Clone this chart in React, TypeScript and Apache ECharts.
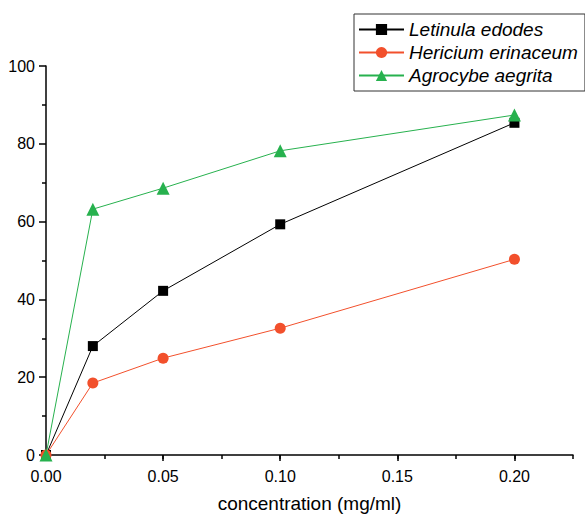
import React, { useEffect, useRef } from "react";
import * as echarts from "echarts";

const concentrations = [0, 0.02, 0.05, 0.1, 0.2];
const seriesNames = ["Letinula edodes", "Hericium erinaceum", "Agrocybe aegrita"];
const letinula = [0, 28.0, 42.2, 59.3, 85.4];
const hericium = [0, 18.5, 24.9, 32.6, 50.3];
const agrocybe = [0, 63.2, 68.6, 78.2, 87.4];
const colors = ["#000000", "#F2502C", "#27B14E"];
const symbols = ["rect", "circle", "triangle"];
const symbolSizes = [10, 11, 13];

export default function App() {
  const ref = useRef<HTMLDivElement>(null);
  useEffect(() => {
    if (!ref.current) return;
    const chart = echarts.init(ref.current, undefined, { renderer: "svg" });
    const values = [letinula, hericium, agrocybe];
    chart.setOption({
      animation: false,
      textStyle: { fontFamily: "Liberation Sans" },
      grid: { left: 46, right: 12, top: 66, bottom: 59, containLabel: false, outerBoundsMode: "none" },
      legend: {
        orient: "vertical",
        left: 354,
        top: 14,
        padding: [6, 7, 6, 4],
        backgroundColor: "#fff",
        borderColor: "#333",
        borderWidth: 1,
        itemWidth: 45,
        itemHeight: 14,
        itemGap: 4,
        textStyle: { fontStyle: "italic", fontSize: 19, color: "#000", fontFamily: "Liberation Sans" },
        data: seriesNames,
      },
      xAxis: [
        {
          type: "value",
          min: 0,
          max: 0.225,
          interval: 0.05,
          name: "concentration (mg/ml)",
          nameLocation: "middle",
          nameGap: 39,
          nameTextStyle: { fontSize: 19, color: "#000" },
          axisLine: { onZero: false, lineStyle: { color: "#000", width: 1.5 } },
          axisTick: { length: 6, lineStyle: { color: "#000", width: 1.5 } },
          axisLabel: {
            fontSize: 16,
            color: "#000",
            margin: 13,
            showMaxLabel: false,
            formatter: (v: number) => (v > 0.21 ? "" : v.toFixed(2)),
          },
          splitLine: { show: false },
        },
        {
          type: "value",
          min: 0,
          max: 0.225,
          interval: 0.025,
          position: "bottom",
          axisLine: { show: false },
          axisTick: { length: 4, lineStyle: { color: "#000", width: 1.5 } },
          axisLabel: { show: false },
          splitLine: { show: false },
        },
      ],
      yAxis: {
        type: "value",
        min: 0,
        max: 100,
        interval: 20,
        axisLine: { show: true, onZero: false, lineStyle: { color: "#000", width: 1.5 } },
        axisTick: { show: true, length: 7, lineStyle: { color: "#000", width: 1.5 } },
        minorTick: { show: true, splitNumber: 2, length: 4, lineStyle: { color: "#000", width: 1.5 } },
        axisLabel: { fontSize: 16, color: "#000", margin: 11 },
        splitLine: { show: false },
      },
      series: seriesNames.map((name, i) => ({
        name,
        type: "line",
        xAxisIndex: 0,
        data: concentrations.map((c, j) => [c, values[i][j]]),
        symbol: symbols[i],
        symbolSize: symbolSizes[i],
        showAllSymbol: true,
        lineStyle: { color: colors[i], width: 1 },
        itemStyle: { color: colors[i] },
      })),
    });
    return () => chart.dispose();
  }, []);
  return <div ref={ref} style={{ width: 585, height: 514, position: "absolute", left: 0, top: 0 }} />;
}
